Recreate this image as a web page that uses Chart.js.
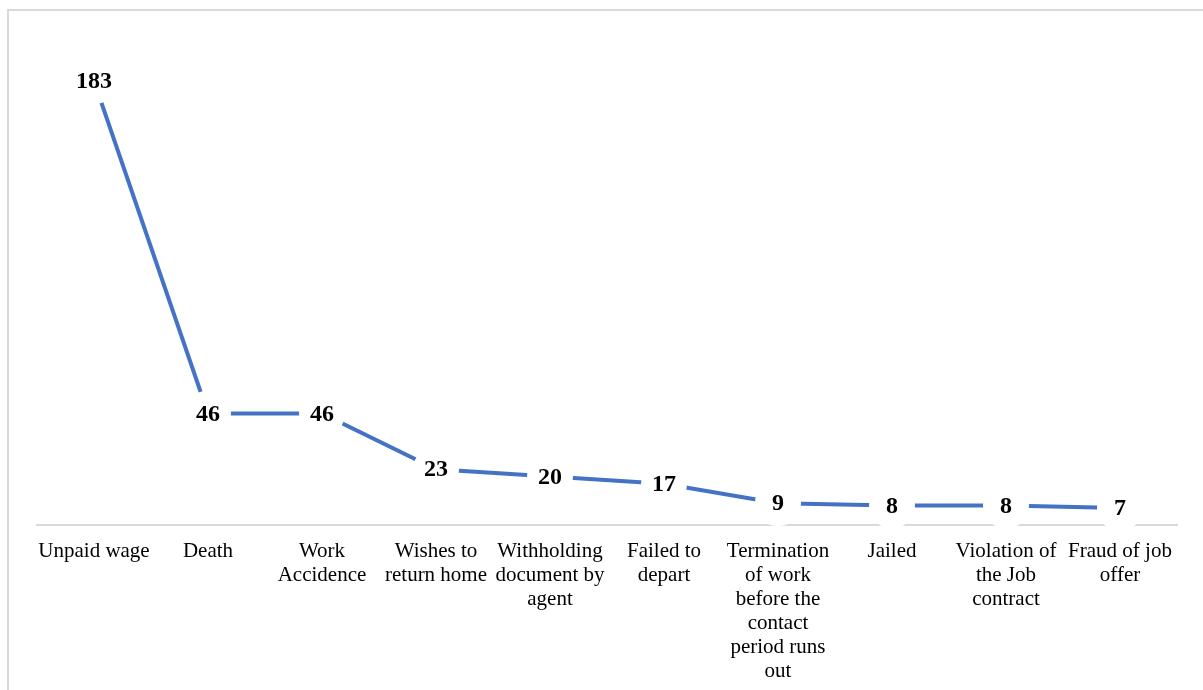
<!DOCTYPE html>
<html>
<head>
<meta charset="utf-8">
<script src="https://cdn.jsdelivr.net/npm/chart.js@4/dist/chart.umd.min.js"></script>
<style>
html,body{margin:0;padding:0;background:#fff;}
#wrap{position:relative;width:1203px;height:690px;}
</style>
</head>
<body>
<div id="wrap"><canvas id="c" width="1203" height="690"></canvas></div>
<script>
const categories = [
  ["Unpaid wage"],
  ["Death"],
  ["Work", "Accidence"],
  ["Wishes to", "return home"],
  ["Withholding", "document by", "agent"],
  ["Failed to", "depart"],
  ["Termination", "of work", "before the", "contact", "period runs", "out"],
  ["Jailed"],
  ["Violation of", "the Job", "contract"],
  ["Fraud of job", "offer"]
];
const values = [183, 46, 46, 23, 20, 17, 9, 8, 8, 7];

const frame = {
  id: 'frame',
  beforeDraw(chart) {
    const ctx = chart.ctx;
    ctx.save();
    ctx.fillStyle = '#fff';
    ctx.fillRect(0, 0, chart.width, chart.height);
    ctx.strokeStyle = '#d9d9d9';
    ctx.lineWidth = 2;
    ctx.strokeRect(8, 10, chart.width + 20, chart.height + 20);
    ctx.restore();
  }
};

const labelsPlugin = {
  id: 'valueLabels',
  afterDatasetsDraw(chart) {
    const ctx = chart.ctx;
    const meta = chart.getDatasetMeta(0);
    ctx.save();
    ctx.font = 'bold 24px "Liberation Serif", "Times New Roman", serif';
    ctx.fillStyle = '#000';
    ctx.textAlign = 'center';
    ctx.textBaseline = 'middle';
    meta.data.forEach((pt, i) => {
      ctx.fillText(String(values[i]), pt.x, pt.y + 1);
    });
    ctx.restore();
  }
};

new Chart(document.getElementById('c'), {
  type: 'line',
  data: {
    labels: categories,
    datasets: [{
      data: values,
      borderColor: '#4472C4',
      borderWidth: 4,
      tension: 0,
      fill: false,
      clip: false,
      pointRadius: 23,
      pointHoverRadius: 23,
      pointBackgroundColor: '#ffffff',
      pointBorderColor: '#ffffff',
      pointBorderWidth: 0
    }]
  },
  options: {
    responsive: false,
    animation: false,
    events: [],
    layout: { padding: { left: 37, right: 26, top: 40, bottom: 0 } },
    plugins: { legend: { display: false }, tooltip: { enabled: false } },
    scales: {
      x: {
        offset: true,
        grid: { display: false, drawTicks: false },
        border: { display: true, color: '#d9d9d9', width: 2 },
        ticks: {
          autoSkip: false,
          maxRotation: 0,
          minRotation: 0,
          padding: 14,
          color: '#000',
          font: { family: '"Liberation Serif", "Times New Roman", serif', size: 21, lineHeight: '24px' }
        },
        afterFit(scale) { scale.height = 165; }
      },
      y: {
        display: false,
        min: 0,
        max: 200
      }
    }
  },
  plugins: [frame, labelsPlugin]
});
</script>
</body>
</html>
